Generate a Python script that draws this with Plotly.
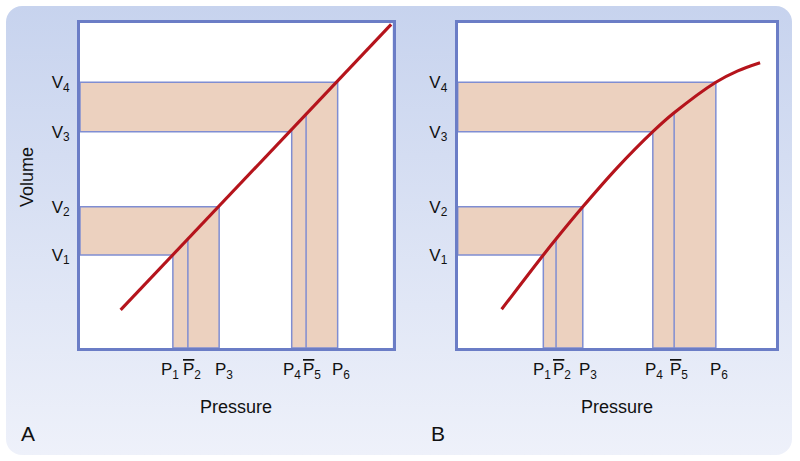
import base64
import numpy as np
import plotly.graph_objects as go

# ---------------- data ----------------
volume_levels = [28.6, 43.4, 66.5, 81.7]           # V1..V4
volume_labels = ["V<sub>1</sub>", "V<sub>2</sub>", "V<sub>3</sub>", "V<sub>4</sub>"]

pressure_A = [29.7, 34.5, 44.5, 67.7, 72.3, 82.4]  # P1..P6 (panel A)
pressure_B = [26.9, 30.9, 39.3, 61.3, 68.0, 81.1]  # P1..P6 (panel B)
OL = "<span style='text-decoration:overline'>P</span>"
pressure_labels = ["P<sub>1</sub>", OL + "<sub>2</sub>", "P<sub>3</sub>",
                   "P<sub>4</sub>", OL + "<sub>5</sub>", "P<sub>6</sub>"]

curveA_p = [13.0, 99.5]
curveA_v = [11.7, 99.5]

curveB_p = [13.8, 26.9, 30.9, 39.3, 50.3, 61.3, 68.0, 81.1, 88.0, 95.0]
curveB_v = [11.9, 28.6, 33.5, 43.4, 55.6, 66.5, 72.3, 81.7, 85.2, 87.7]

panel_letters = ["A", "B"]

# ---------------- style ----------------
FONT = "Liberation Sans, Arial, Helvetica, sans-serif"
RED = "#b5141c"
SHADE = "#ecd1bf"
THIN = "#7f8dd2"
BORDER = "#6b7dc6"
TXT = "#111111"
TICK_SIZE = 17
# small horizontal nudges of the pressure labels (px), as hand-placed in the original
label_nudge_A = [-3, 4.5, 4.7, 0, 6, 3]
label_nudge_B = [-1, 6, 5, 1, 4.7, 3.5]

fig = go.Figure()

fig.add_trace(go.Scatter(x=curveA_p, y=curveA_v, mode="lines",
                         line=dict(color=RED, width=3.1), xaxis="x", yaxis="y",
                         hoverinfo="skip", showlegend=False))
fig.add_trace(go.Scatter(x=curveB_p, y=curveB_v, mode="lines",
                         line=dict(color=RED, width=3.1, shape="spline", smoothing=1.0),
                         xaxis="x2", yaxis="y2", hoverinfo="skip", showlegend=False))

shapes = []


def panel_shapes(xr, yr, pres, cp, cv):
    out = [dict(type="rect", xref=xr, yref=yr, x0=0, x1=100, y0=0, y1=100,
                fillcolor="white", line=dict(width=0), layer="below")]
    for (lo_i, mid_i, hi_i, vlo, vhi) in [(0, 1, 2, volume_levels[0], volume_levels[1]),
                                          (3, 4, 5, volume_levels[2], volume_levels[3])]:
        plo, phi = pres[lo_i], pres[hi_i]
        path = (f"M 0,{vlo} L {plo},{vlo} L {plo},0 L {phi},0 "
                f"L {phi},{vhi} L 0,{vhi} Z")
        out.append(dict(type="path", xref=xr, yref=yr, path=path,
                        fillcolor=SHADE, line=dict(color=THIN, width=1.5), layer="below"))
        pm = pres[mid_i]
        out.append(dict(type="line", xref=xr, yref=yr, x0=pm, x1=pm, y0=0,
                        y1=float(np.interp(pm, cp, cv)),
                        line=dict(color=THIN, width=1.5), layer="below"))
    return out


shapes += panel_shapes("x", "y", pressure_A, curveA_p, curveA_v)
shapes += panel_shapes("x2", "y2", pressure_B, curveB_p, curveB_v)

W, H = 800, 461
bg_svg = (
    f"<svg xmlns='http://www.w3.org/2000/svg' width='{W}' height='{H}' viewBox='0 0 {W} {H}'>"
    "<defs><linearGradient id='g' x1='0' y1='0' x2='0' y2='1'>"
    "<stop offset='0' stop-color='#c7d3ee'/><stop offset='1' stop-color='#eef1fa'/>"
    "</linearGradient></defs>"
    "<rect x='6' y='6' width='786' height='449' rx='16' ry='16' fill='url(#g)'/></svg>"
)
bg_uri = "data:image/svg+xml;base64," + base64.b64encode(bg_svg.encode()).decode()

axis_common = dict(range=[0, 100], showgrid=False, zeroline=False, showline=True,
                   mirror=True, linecolor=BORDER, linewidth=3, ticks="", tickangle=0,
                   tickfont=dict(family=FONT, size=TICK_SIZE, color=TXT), fixedrange=True)

domA = [80 / W, 392.7 / W]
domB = [457.7 / W, 776 / W]
domY = [(H - 348) / H, (H - 22.7) / H]

fig.update_layout(
    width=W, height=H, autosize=False,
    margin=dict(l=0, r=0, t=0, b=0),
    paper_bgcolor="white", plot_bgcolor="white",
    font=dict(family=FONT, color=TXT),
    xaxis=dict(domain=domA, anchor="y", tickvals=pressure_A, showticklabels=False,
               **axis_common),
    yaxis=dict(domain=domY, anchor="x", tickvals=volume_levels, ticktext=volume_labels,
               ticklabelstandoff=4, **axis_common),
    xaxis2=dict(domain=domB, anchor="y2", tickvals=pressure_B, showticklabels=False,
                **axis_common),
    yaxis2=dict(domain=domY, anchor="x2", tickvals=volume_levels, ticktext=volume_labels,
                ticklabelstandoff=4, **axis_common),
    shapes=shapes,
    images=[dict(source=bg_uri, xref="paper", yref="paper", x=0, y=1, sizex=1, sizey=1,
                 xanchor="left", yanchor="top", sizing="stretch", layer="below")],
    showlegend=False,
)

ann = []
# pressure tick labels, positioned on the pressure axes
for xr, pres, nudges in [("x", pressure_A, label_nudge_A), ("x2", pressure_B, label_nudge_B)]:
    for p, lab, dx in zip(pres, pressure_labels, nudges):
        ann.append(dict(text=lab, x=p, xref=xr, y=(H - 371) / H, yref="paper",
                        showarrow=False, xanchor="center", yanchor="middle", xshift=dx,
                        font=dict(size=TICK_SIZE, family=FONT, color=TXT)))

ann.append(dict(text="Volume", x=27 / W, y=(H - 177) / H, xref="paper", yref="paper",
                textangle=-90, showarrow=False, font=dict(size=18, family=FONT, color=TXT),
                xanchor="center", yanchor="middle"))
for cx in [(domA[0] + domA[1]) / 2, (domB[0] + domB[1]) / 2]:
    ann.append(dict(text="Pressure", x=cx, y=(H - 407) / H, xref="paper", yref="paper",
                    showarrow=False, font=dict(size=18, family=FONT, color=TXT),
                    xanchor="center", yanchor="middle"))
for letter, lx in zip(panel_letters, [27.5, 438]):
    ann.append(dict(text=letter, x=lx / W, y=(H - 433) / H, xref="paper", yref="paper",
                    showarrow=False, font=dict(size=21, family=FONT, color=TXT),
                    xanchor="center", yanchor="middle"))
fig.update_layout(annotations=ann)

fig.write_html("out.html", config={"displayModeBar": False},
               post_script="document.body.style.margin='0px';")
